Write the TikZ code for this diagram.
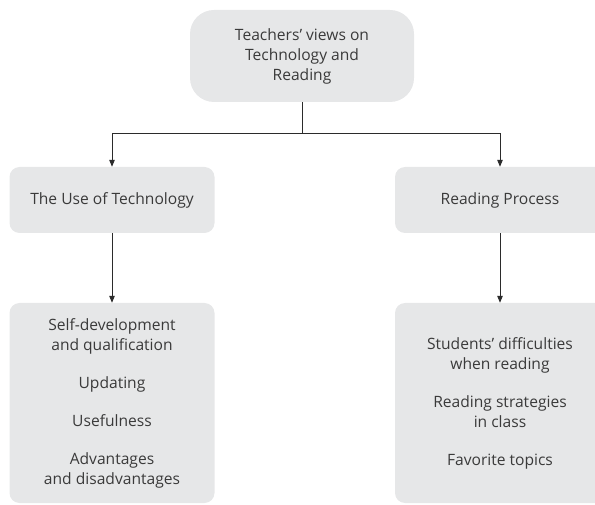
\documentclass[tikz,border=0pt]{standalone}
\usepackage{fontspec}
\setmainfont{Open Sans}
\usetikzlibrary{arrows.meta}
\definecolor{boxfill}{HTML}{E6E7E8}
\definecolor{txt}{HTML}{3A3A3A}
\definecolor{ln}{HTML}{2B2B2B}
\begin{document}
\begin{tikzpicture}[x=1pt,y=1pt,
  box/.style={fill=boxfill, draw=none, rounded corners=10pt, align=center,
    text=txt, inner sep=0pt,
    font=\fontsize{15.6}{20}\selectfont},
  arr/.style={draw=ln, line width=0.9pt, -{Triangle[length=7pt,width=5.5pt]}}]
\useasboundingbox (0,0) rectangle (595,504);
\clip (0,0) rectangle (595,504);
\node[box, rounded corners=24pt, minimum width=224pt, minimum height=92pt] (top) at (302,448)
  {Teachers’ views on\\Technology and\\Reading};
\node[box, minimum width=205pt, minimum height=66pt] (lm) at (112,304) {The Use of Technology};
\node[box, minimum width=210pt, minimum height=66pt] (rm) at (500,304) {Reading Process};
\node[box, minimum width=205pt, minimum height=200pt] (lb) at (112,101)
  {Self-development\\and qualification\\[18pt]Updating\\[18pt]Usefulness\\[18pt]Advantages\\and disadvantages};
\node[box, minimum width=210pt, minimum height=200pt] (rb) at (500,101)
  {Students’ difficulties\\when reading\\[18pt]Reading strategies\\in class\\[18pt]Favorite topics};
\coordinate (j) at (302,371);
\draw[arr] (top.south) -- (j) -| (lm.north);
\draw[arr] (j) -| (rm.north);
\draw[arr] (lm.south) -- (lb.north);
\draw[arr] (rm.south) -- (rb.north);
\end{tikzpicture}
\end{document}
